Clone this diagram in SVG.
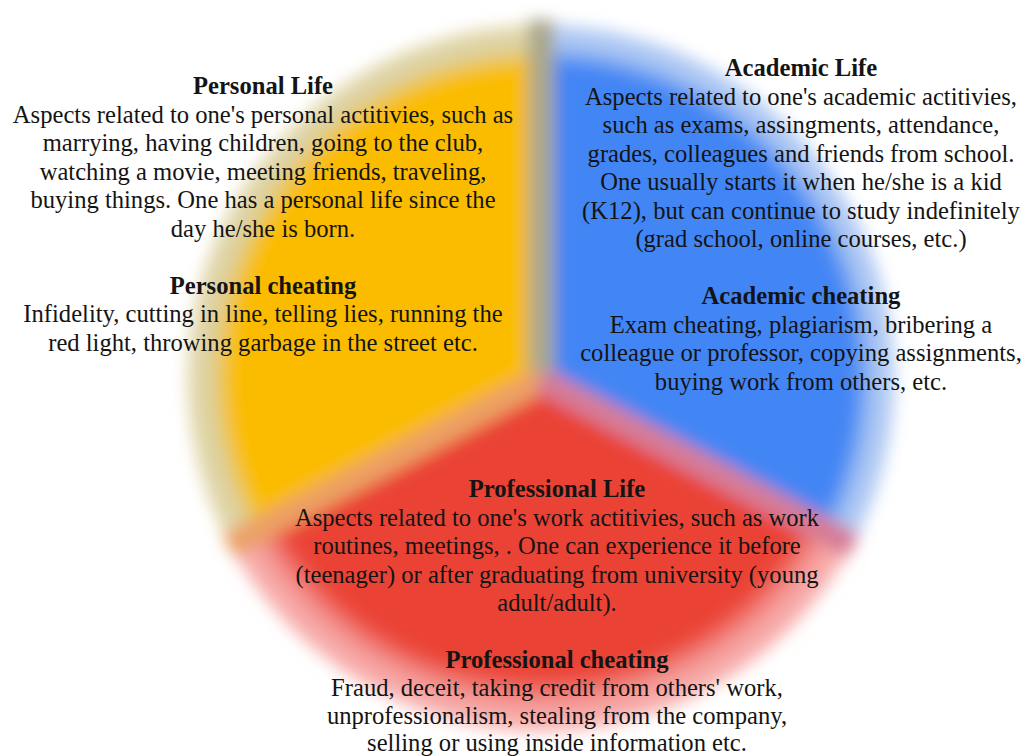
<svg xmlns="http://www.w3.org/2000/svg" width="1027" height="756" viewBox="0 0 1027 756">
  <style>
    .t { font-family: "Liberation Serif", "Times New Roman", serif; font-size: 24.6px; fill: #141414; text-anchor: middle; }
    .h { font-weight: bold; }
    .seam { fill: none; stroke-width: 26; stroke-linecap: butt; }
  </style>
  <defs>
    <!-- soft edges of the wheel -->
    <filter id="soft" x="-15%" y="-15%" width="130%" height="130%">
      <feGaussianBlur stdDeviation="8"/>
    </filter>
    <radialGradient id="gPersonal" gradientUnits="userSpaceOnUse" cx="541" cy="378" r="354">
      <stop offset="0" stop-color="#fbbc05"/>
      <stop offset="0.87" stop-color="#fbbc05"/>
      <stop offset="0.93" stop-color="#dccf9c"/>
      <stop offset="1" stop-color="#e4dbb4"/>
    </radialGradient>
    <radialGradient id="gAcademic" gradientUnits="userSpaceOnUse" cx="541" cy="378" r="354">
      <stop offset="0" stop-color="#4285f4"/>
      <stop offset="0.88" stop-color="#4285f4"/>
      <stop offset="0.94" stop-color="#a6c3f2"/>
      <stop offset="1" stop-color="#bed3f6"/>
    </radialGradient>
    <radialGradient id="gProfessional" gradientUnits="userSpaceOnUse" cx="541" cy="378" r="354">
      <stop offset="0" stop-color="#ea4335"/>
      <stop offset="0.84" stop-color="#ea4335"/>
      <stop offset="0.92" stop-color="#f49a98"/>
      <stop offset="1" stop-color="#f9bcba"/>
    </radialGradient>
  </defs>

  <rect width="1027" height="756" fill="#ffffff"/>

  <!-- three-part wheel -->
  <g id="wheel" filter="url(#soft)">
    <g id="sector-personal">
      <path d="M541,378 L228.4,544.2 A354,354 0 0 1 541,24 Z" fill="url(#gPersonal)"/>
    </g>
    <g id="sector-academic">
      <path d="M541,378 L541,24 A354,354 0 0 1 853.6,544.2 Z" fill="url(#gAcademic)"/>
    </g>
    <g id="sector-professional">
      <path d="M541,378 L853.6,544.2 A354,354 0 0 1 228.4,544.2 Z" fill="url(#gProfessional)"/>
    </g>
    <g id="seams">
      <path class="seam" d="M541,372 L541,20" stroke="#aba88c"/>
      <path class="seam" d="M541,380 L228.4,546" stroke="#eca065"/>
      <path class="seam" d="M541,380 L853.6,546" stroke="#d67c96"/>
    </g>
  </g>

  <!-- labels -->
  <g id="personal">
    <text class="t h" x="263" y="94">Personal Life</text>
    <text class="t" x="263" y="122.5">Aspects related to one's personal actitivies, such as</text>
    <text class="t" x="263" y="151">marrying, having children, going to the club,</text>
    <text class="t" x="263" y="179.5">watching a movie, meeting friends, traveling,</text>
    <text class="t" x="263" y="208">buying things. One has a personal life since the</text>
    <text class="t" x="263" y="236.5">day he/she is born.</text>
    <text class="t h" x="263" y="293.5">Personal cheating</text>
    <text class="t" x="263" y="322">Infidelity, cutting in line, telling lies, running the</text>
    <text class="t" x="263" y="350.5">red light, throwing garbage in the street etc.</text>
  </g>

  <g id="academic">
    <text class="t h" x="801" y="76">Academic Life</text>
    <text class="t" x="801" y="104.5">Aspects related to one's academic actitivies,</text>
    <text class="t" x="801" y="133">such as exams, assingments, attendance,</text>
    <text class="t" x="801" y="161.5">grades, colleagues and friends from school.</text>
    <text class="t" x="801" y="190">One usually starts it when he/she is a kid</text>
    <text class="t" x="801" y="218.5">(K12), but can continue to study indefinitely</text>
    <text class="t" x="801" y="247">(grad school, online courses, etc.)</text>
    <text class="t h" x="801" y="304">Academic cheating</text>
    <text class="t" x="801" y="332.5">Exam cheating, plagiarism, bribering a</text>
    <text class="t" x="801" y="361">colleague or professor, copying assignments,</text>
    <text class="t" x="801" y="389.5">buying work from others, etc.</text>
  </g>

  <g id="professional">
    <text class="t h" x="557" y="497">Professional Life</text>
    <text class="t" x="557" y="525.5">Aspects related to one's work actitivies, such as work</text>
    <text class="t" x="557" y="554">routines, meetings, . One can experience it before</text>
    <text class="t" x="557" y="582.5">(teenager) or after graduating from university (young</text>
    <text class="t" x="557" y="611">adult/adult).</text>
    <text class="t h" x="557" y="668">Professional cheating</text>
    <text class="t" x="557" y="696">Fraud, deceit, taking credit from others' work,</text>
    <text class="t" x="557" y="724">unprofessionalism, stealing from the company,</text>
    <text class="t" x="557" y="751">selling or using inside information etc.</text>
  </g>
</svg>
